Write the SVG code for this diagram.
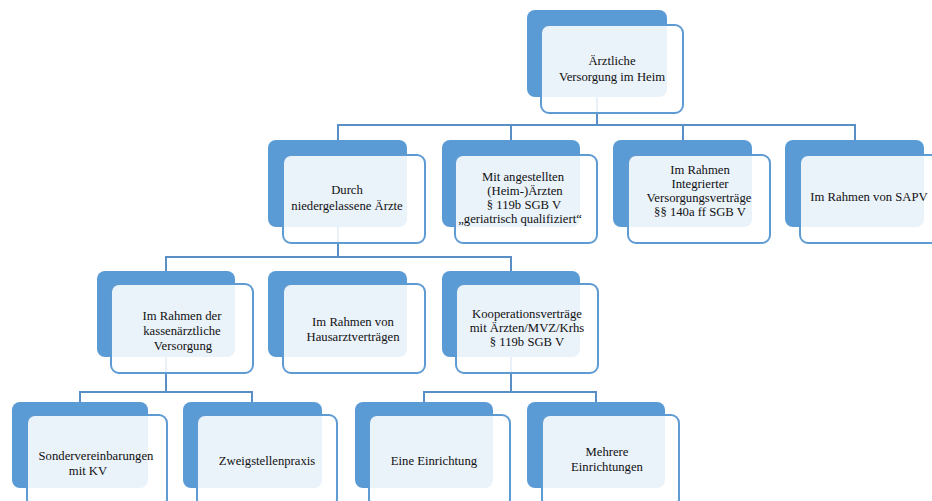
<svg xmlns="http://www.w3.org/2000/svg" width="932" height="501" viewBox="0 0 932 501">
  <style>
    .back { fill: #5b9bd5; }
    .front { fill: #ffffff; fill-opacity: 0.87; stroke: #5f9bd3; stroke-width: 2; }
    .link { fill: none; stroke: #5a8fc6; stroke-width: 2; }
    text { font-family: "Liberation Serif", "Times New Roman", serif; font-size: 12.7px; fill: #111111; text-anchor: middle; }
  </style>
  <rect width="932" height="501" fill="#ffffff"/>

  <!-- connectors -->
  <g id="connectors">
    <path class="link" d="M597,97 V125 M338,140 V125 H855 V140 M511,125 V140 M683,125 V140"/>
    <path class="link" d="M338,227 V257 M166,271 V257 H511 V271"/>
    <path class="link" d="M166,357 V392 M80,402 V392 H252 V402"/>
    <path class="link" d="M511,357 V392 M424,402 V392 H596 V402"/>
  </g>

  <!-- level 0 -->
  <g id="node-root">
    <rect class="back" x="527" y="10" width="140" height="87" rx="8"/>
    <rect class="front" x="541" y="25" width="142" height="88" rx="8"/>
    <text x="612" y="65">Ärztliche<tspan x="612" dy="16">Versorgung im Heim</tspan></text>
  </g>

  <!-- level 1 -->
  <g id="node-niedergelassen">
    <rect class="back" x="268" y="140" width="139" height="87" rx="8"/>
    <rect class="front" x="283" y="155" width="142" height="88" rx="8"/>
    <text x="347" y="194">Durch<tspan x="347" dy="15.5">niedergelassene Ärzte</tspan></text>
  </g>
  <g id="node-angestellt">
    <rect class="back" x="442" y="140" width="138" height="87" rx="8"/>
    <rect class="front" x="455" y="155" width="142" height="88" rx="8"/>
    <text x="523" y="181">Mit angestellten<tspan x="525" dy="14">(Heim-)Ärzten</tspan><tspan x="524" dy="14">§ 119b SGB V</tspan><tspan x="520" dy="14">„geriatrisch qualifiziert“</tspan></text>
  </g>
  <g id="node-integriert">
    <rect class="back" x="613" y="140" width="139" height="87" rx="8"/>
    <rect class="front" x="628" y="155" width="142" height="88" rx="8"/>
    <text x="700" y="174">Im Rahmen<tspan x="700" dy="14">Integrierter</tspan><tspan x="699" dy="14">Versorgungsverträge</tspan><tspan x="700" dy="14">§§ 140a ff SGB V</tspan></text>
  </g>
  <g id="node-sapv">
    <rect class="back" x="785" y="140" width="139" height="87" rx="8"/>
    <rect class="front" x="800" y="155" width="142" height="88" rx="8"/>
    <text x="869" y="201">Im Rahmen von SAPV</text>
  </g>

  <!-- level 2 -->
  <g id="node-kassenaerztlich">
    <rect class="back" x="97" y="271" width="138" height="86" rx="8"/>
    <rect class="front" x="111" y="284" width="142" height="89" rx="8"/>
    <text x="182" y="320">Im Rahmen der<tspan x="182" dy="15">kassenärztliche</tspan><tspan x="183" dy="15">Versorgung</tspan></text>
  </g>
  <g id="node-hausarzt">
    <rect class="back" x="268" y="271" width="139" height="86" rx="8"/>
    <rect class="front" x="283" y="284" width="142" height="89" rx="8"/>
    <text x="353" y="326">Im Rahmen von<tspan x="353" dy="15">Hausarztverträgen</tspan></text>
  </g>
  <g id="node-kooperation">
    <rect class="back" x="442" y="271" width="138" height="86" rx="8"/>
    <rect class="front" x="456" y="284" width="142" height="89" rx="8"/>
    <text x="527" y="318">Kooperationsverträge<tspan x="527" dy="14">mit Ärzten/MVZ/Krhs</tspan><tspan x="527" dy="14">§ 119b SGB V</tspan></text>
  </g>

  <!-- level 3 -->
  <g id="node-sonder">
    <rect class="back" x="12" y="402" width="136" height="86" rx="8"/>
    <rect class="front" x="27" y="415" width="140" height="92" rx="8"/>
    <text x="96" y="460">Sondervereinbarungen<tspan x="88" dy="15">mit KV</tspan></text>
  </g>
  <g id="node-zweigstelle">
    <rect class="back" x="183" y="402" width="139" height="86" rx="8"/>
    <rect class="front" x="197" y="415" width="140" height="92" rx="8"/>
    <text x="267" y="465">Zweigstellenpraxis</text>
  </g>
  <g id="node-eine">
    <rect class="back" x="355" y="402" width="138" height="86" rx="8"/>
    <rect class="front" x="369" y="415" width="141" height="92" rx="8"/>
    <text x="434" y="465">Eine Einrichtung</text>
  </g>
  <g id="node-mehrere">
    <rect class="back" x="527" y="402" width="138" height="86" rx="8"/>
    <rect class="front" x="542" y="415" width="137" height="92" rx="8"/>
    <text x="607" y="456">Mehrere<tspan x="607" dy="15">Einrichtungen</tspan></text>
  </g>
</svg>
